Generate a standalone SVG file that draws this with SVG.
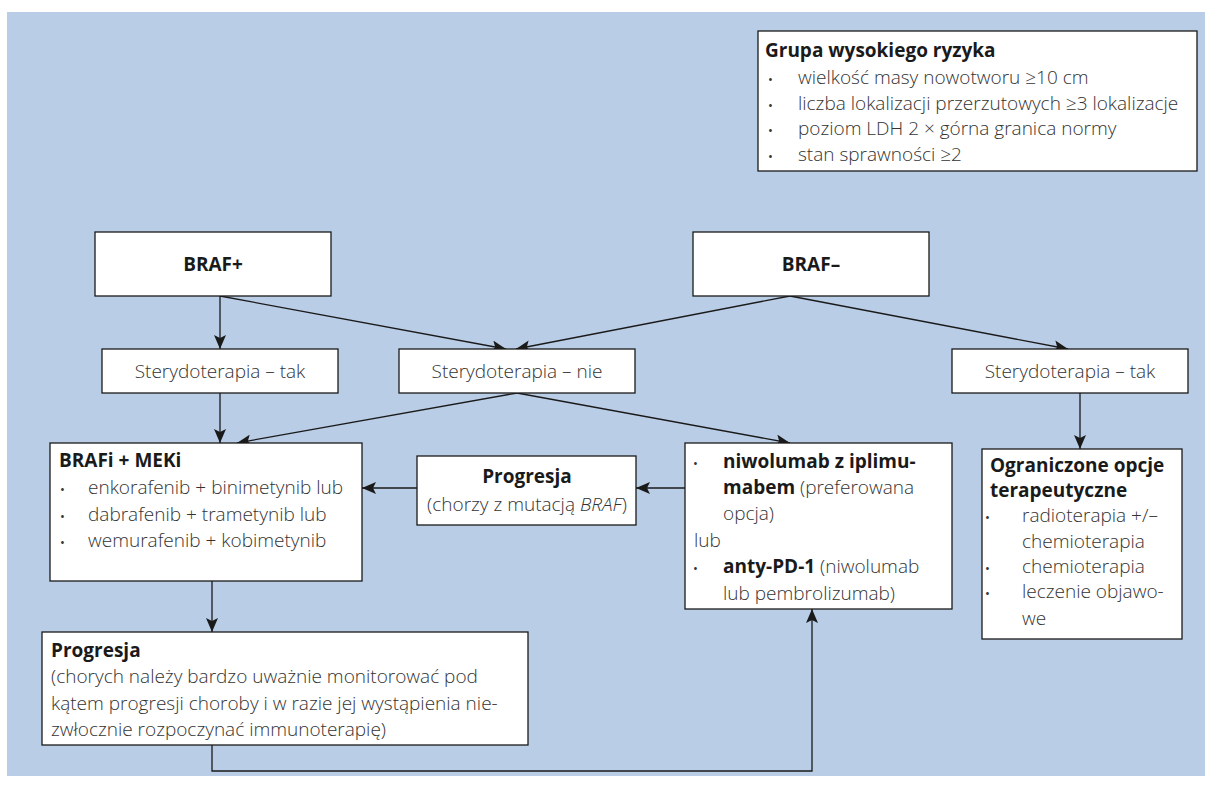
<svg xmlns="http://www.w3.org/2000/svg" width="1212" height="808" viewBox="0 0 1212 808">
<defs>
<marker id="ah" markerUnits="userSpaceOnUse" markerWidth="14" markerHeight="12" viewBox="0 0 14 12" refX="14" refY="6" orient="auto">
<path d="M0,0 L14,6 L0,12 L3,6 Z" fill="#1a1a1a"/>
</marker>
</defs>
<style>
.box{fill:#fff;stroke:#1a1a1a;stroke-width:1.3}
.t{font-family:"Open Sans","Liberation Sans",sans-serif;font-size:19px;fill:#333;font-weight:300}
.b{font-family:"Open Sans","Liberation Sans",sans-serif;font-size:19px;fill:#1a1a1a;font-weight:700}
.bb{font-weight:700;fill:#1a1a1a;font-size:19px}
.c{text-anchor:middle}
.bul{font-family:"Open Sans","Liberation Sans",sans-serif;font-size:13px;fill:#333}
.ln{fill:none;stroke:#1a1a1a;stroke-width:1.3}
.ar{marker-end:url(#ah)}
</style>
<rect x="7" y="12" width="1198" height="764" fill="#b9cde6"/>

<g id="connectors">
<path class="ln ar" d="M220 296 V349"/>
<path class="ln ar" d="M220 296 L506 349"/>
<path class="ln ar" d="M790 296 L516 349"/>
<path class="ln ar" d="M790 296 L1068 349"/>
<path class="ln ar" d="M220 393 V443"/>
<path class="ln ar" d="M517 393 L237 443"/>
<path class="ln ar" d="M517 393 L790 443"/>
<path class="ln ar" d="M1080 393 V449"/>
<path class="ln ar" d="M685 488 H636"/>
<path class="ln ar" d="M417 488 H362"/>
<path class="ln ar" d="M212 581 V632"/>
<path class="ln ar" d="M212 745 V771 H812 V609"/>
</g>

<g id="risk">
<rect class="box" x="758" y="31" width="439" height="140"/>
<text class="b" x="765" y="57">Grupa wysokiego ryzyka</text>
<text class="bul" x="768" y="84">•</text><text class="t" x="798" y="84">wielkość masy nowotworu ≥10 cm</text>
<text class="bul" x="768" y="110">•</text><text class="t" x="798" y="110">liczba lokalizacji przerzutowych ≥3 lokalizacje</text>
<text class="bul" x="768" y="135">•</text><text class="t" x="798" y="135">poziom LDH 2 × górna granica normy</text>
<text class="bul" x="768" y="161">•</text><text class="t" x="798" y="161">stan sprawności ≥2</text>
</g>

<g id="braf-pos">
<rect class="box" x="95" y="232" width="236" height="64"/>
<text class="b c" x="213" y="271">BRAF+</text>
</g>

<g id="braf-neg">
<rect class="box" x="693" y="232" width="236" height="64"/>
<text class="b c" x="811" y="271">BRAF–</text>
</g>

<g id="steroid-yes-left">
<rect class="box" x="102" y="349" width="236" height="44"/>
<text class="t c" x="220" y="378">Sterydoterapia – tak</text>
</g>

<g id="steroid-no">
<rect class="box" x="399" y="349" width="236" height="44"/>
<text class="t c" x="517" y="378">Sterydoterapia – nie</text>
</g>

<g id="steroid-yes-right">
<rect class="box" x="952" y="349" width="236" height="44"/>
<text class="t c" x="1070" y="378">Sterydoterapia – tak</text>
</g>

<g id="brafi-meki">
<rect class="box" x="50" y="443" width="312" height="138"/>
<text class="b" x="59" y="467">BRAFi + MEKi</text>
<text class="bul" x="60" y="494">•</text><text class="t" x="88" y="494">enkorafenib + binimetynib lub</text>
<text class="bul" x="60" y="521">•</text><text class="t" x="88" y="521">dabrafenib + trametynib lub</text>
<text class="bul" x="60" y="547">•</text><text class="t" x="88" y="547">wemurafenib + kobimetynib</text>
</g>

<g id="progression-mid">
<rect class="box" x="417" y="456" width="219" height="69"/>
<text class="b c" x="527" y="483">Progresja</text>
<text class="t c" x="527" y="511">(chorzy z mutacją <tspan font-style="italic">BRAF</tspan>)</text>
</g>

<g id="immuno">
<rect class="box" x="685" y="443" width="267" height="166"/>
<text class="bul" x="693" y="468">•</text><text class="b" x="723" y="468">niwolumab z iplimu-</text>
<text class="t" x="723" y="494"><tspan class="bb">mabem</tspan> (preferowana</text>
<text class="t" x="723" y="520">opcja)</text>
<text class="t" x="694" y="547">lub</text>
<text class="bul" x="693" y="573">•</text><text class="t" x="723" y="573"><tspan class="bb">anty-PD-1</tspan> (niwolumab</text>
<text class="t" x="723" y="600">lub pembrolizumab)</text>
</g>

<g id="limited">
<rect class="box" x="982" y="449" width="200" height="190"/>
<text class="b" x="990" y="472">Ograniczone opcje</text>
<text class="b" x="990" y="497">terapeutyczne</text>
<text class="bul" x="985" y="522">•</text><text class="t" x="1022" y="522">radioterapia +/–</text>
<text class="t" x="1022" y="548">chemioterapia</text>
<text class="bul" x="985" y="573">•</text><text class="t" x="1022" y="573">chemioterapia</text>
<text class="bul" x="985" y="598">•</text><text class="t" x="1022" y="598">leczenie objawo-</text>
<text class="t" x="1022" y="625">we</text>
</g>

<g id="progression-bottom">
<rect class="box" x="42" y="632" width="486" height="113"/>
<text class="b" x="51" y="657">Progresja</text>
<text class="t" x="51" y="683">(chorych należy bardzo uważnie monitorować pod</text>
<text class="t" x="51" y="710">kątem progresji choroby i w razie jej wystąpienia nie-</text>
<text class="t" x="51" y="736">zwłocznie rozpoczynać immunoterapię)</text>
</g>
</svg>
